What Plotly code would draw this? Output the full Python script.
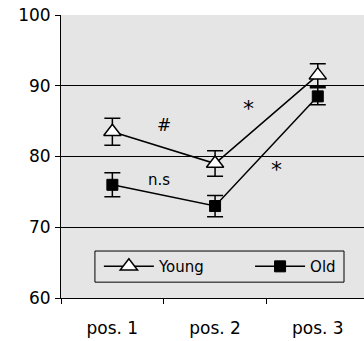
import plotly.graph_objects as go

categories = ["pos. 1", "pos. 2", "pos. 3"]
young = [83.5, 79.0, 91.5]
young_err = [1.9, 1.8, 1.6]
old = [76.0, 73.0, 88.5]
old_err = [1.7, 1.5, 1.2]

ann_text = ["#", "n.s", "*", "*"]
ann_x = [0.5, 0.45, 1.33, 1.6]
ann_y = [84.4, 76.7, 86.8, 78.1]

FONT = "DejaVu Sans"
BG = "#E5E5E5"

fig = go.Figure()
fig.add_trace(go.Scatter(
    x=categories, y=young, name="Young", mode="lines+markers", legend="legend",
    line=dict(color="black", width=1.5),
    marker=dict(symbol="triangle-up", size=15, color="white", line=dict(color="black", width=1.5)),
    error_y=dict(type="data", array=young_err, color="black", thickness=1.5, width=8),
))
fig.add_trace(go.Scatter(
    x=categories, y=old, name="Old", mode="lines+markers", legend="legend2",
    line=dict(color="black", width=1.5),
    marker=dict(symbol="square", size=11, color="black", line=dict(color="black", width=1)),
    error_y=dict(type="data", array=old_err, color="black", thickness=1.5, width=8),
))

for t, x, y in zip(ann_text, ann_x, ann_y):
    size = 22 if t == "*" else (17 if t == "#" else 15)
    fig.add_annotation(x=x, y=y, text=t, showarrow=False,
                       font=dict(family=FONT, size=size, color="#000000"))

# legend frame
fig.add_shape(type="rect", xref="paper", yref="paper",
              x0=0.112, x1=0.934, y0=0.056, y1=0.166,
              line=dict(color="black", width=1), fillcolor="rgba(0,0,0,0)", layer="above")

leg_common = dict(orientation="h", yanchor="middle", xanchor="left", y=0.111,
                  bgcolor="rgba(0,0,0,0)", borderwidth=0,
                  font=dict(family=FONT, size=15, color="black"), itemwidth=50)
fig.update_layout(
    width=364, height=341,
    margin=dict(l=61, r=0, t=15, b=43, autoexpand=False),
    paper_bgcolor="white", plot_bgcolor=BG,
    font=dict(family=FONT, size=17, color="black"),
    showlegend=True,
    legend=dict(x=0.125, **leg_common),
    legend2=dict(x=0.624, **leg_common),
)
fig.update_xaxes(type="category", range=[-0.5, 2.45], tickson="boundaries",
                 ticks="outside", ticklen=5, tickcolor="black", showgrid=False,
                 showline=True, linecolor="black", linewidth=1, zeroline=False,
                 ticklabelstandoff=15, automargin=False, fixedrange=True)
fig.update_yaxes(range=[60, 100], dtick=10, ticks="outside", ticklen=5, tickcolor="black",
                 showgrid=True, gridcolor="black", gridwidth=1,
                 showline=True, linecolor="black", linewidth=1, zeroline=False,
                 ticklabelstandoff=1, automargin=False, fixedrange=True)

fig.write_html("out.html", config={"displayModeBar": False},
               post_script="document.body.style.margin='0';")
